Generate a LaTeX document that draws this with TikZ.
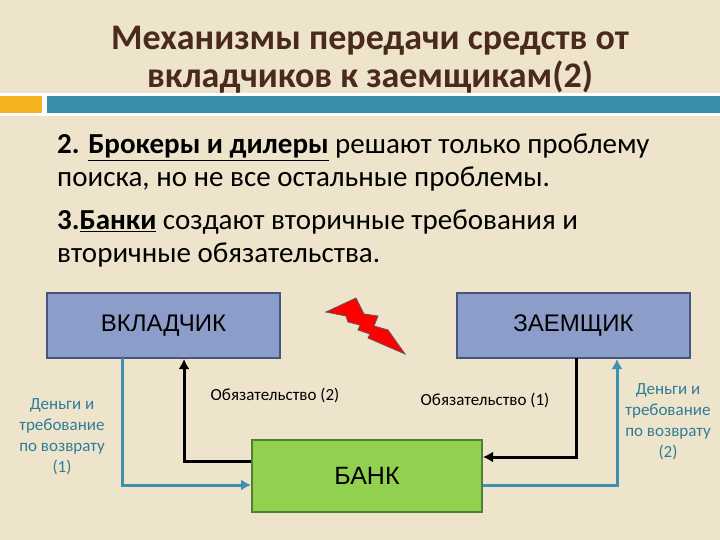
\documentclass[tikz,border=0pt]{standalone}
\usepackage{fontspec}
\usetikzlibrary{arrows.meta}
\setmainfont{Carlito}
\newfontfamily\arialf{Liberation Sans}
\definecolor{bg}{HTML}{EEE4CC}
\definecolor{titlec}{HTML}{4A2A1A}
\definecolor{tealbar}{HTML}{3A8FA8}
\definecolor{orangebar}{HTML}{F5B41E}
\definecolor{boxblue}{HTML}{8C9DC9}
\definecolor{boxblueb}{HTML}{44557F}
\definecolor{boxgreen}{HTML}{92D050}
\definecolor{boxgreenb}{HTML}{4F7F36}
\definecolor{flowblue}{HTML}{3F8FB2}
\definecolor{labteal}{HTML}{2E7D96}
\begin{document}
\begin{tikzpicture}[x=1pt,y=-1pt,
  ent/.style={draw=boxblueb,line width=2pt,fill=boxblue,minimum width=233pt,minimum height=65pt,font=\arialf\fontsize{24}{28}\selectfont},
  bank/.style={draw=boxgreenb,line width=2pt,fill=boxgreen,minimum width=230pt,minimum height=72pt,font=\arialf\fontsize{25}{28}\selectfont},
  bflow/.style={draw=flowblue,line width=3pt,-{Latex[length=10pt,width=11pt]}},
  kflow/.style={draw=black,line width=3pt,-{Latex[length=10pt,width=11pt]}},
  lab/.style={font=\fontsize{17}{21}\selectfont,align=center,text=labteal},
  olab/.style={font=\fontsize{17}{20}\selectfont}]
\useasboundingbox (0,0) rectangle (720,540);
\fill[bg] (0,0) rectangle (720,540);
\node[text=titlec,font=\fontsize{36}{38}\selectfont\bfseries,align=center] (title) at (370,60) {Механизмы передачи средств от\\вкладчиков к заемщикам(2)};
\fill[white] (0,93) rectangle (720,116);
\fill[orangebar] (0,96) rectangle (42,113);
\fill[tealbar] (47,96) rectangle (720,113);
\node[anchor=north west,align=left,font=\fontsize{29}{33}\selectfont,inner sep=0pt] (t1) at (57,134) {\textbf{2. \underline{Брокеры и дилеры}} решают только проблему\\поиска, но не все остальные проблемы.};
\node[anchor=north west,align=left,font=\fontsize{29}{33}\selectfont,inner sep=0pt] (t2) at (57,210) {\textbf{3.\underline{Банки}} создают вторичные требования и\\вторичные обязательства.};
\node[ent] (v) at (163.5,325.5) {ВКЛАДЧИК};
\node[ent] (z) at (573.5,325.5) {ЗАЕМЩИК};
\node[bank] (b) at (367,476) {БАНК};
\fill[red,draw=gray!70!black,line width=0.8pt] (326,312) -- (356,298) -- (364,314) -- (378,316) -- (374,326) -- (388,330) -- (405,354) -- (368,338) -- (370,334) -- (358,330) -- (360,325) -- (348,322) -- (346,316) -- cycle;
\coordinate (c1) at (122,358);
\coordinate (c1b) at (122,485);
\draw[bflow] (c1) -- (c1b) -- (b.west |- c1b);
\coordinate (c2) at (184,461);
\draw[kflow] (b.west |- c2) -- (c2) -- (v.south -| c2);
\coordinate (c3) at (576,358);
\coordinate (c3b) at (576,457);
\draw[kflow] (c3) -- (c3b) -- (b.east |- c3b);
\coordinate (c4) at (617,485);
\draw[bflow] (b.east |- c4) -- (c4) -- (z.south -| c4);
\node[lab] (l1) at (62,437) {Деньги и\\требование\\по возврату\\(1)};
\node[lab] (l2) at (668,422) {Деньги и\\требование\\по возврату\\(2)};
\node[olab] (o2) at (275,395) {Обязательство (2)};
\node[olab] (o1) at (485,400) {Обязательство (1)};
\end{tikzpicture}
\end{document}
